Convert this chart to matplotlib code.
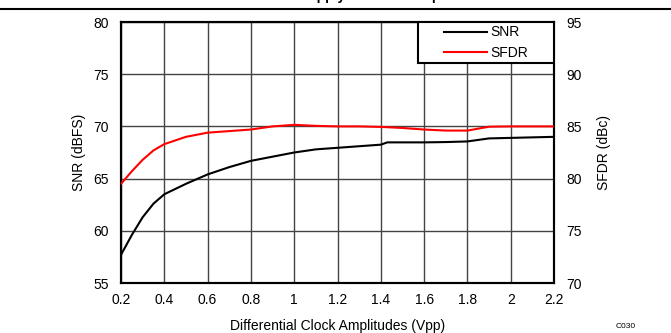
import matplotlib
matplotlib.use("Agg")
import matplotlib.pyplot as plt
from matplotlib.lines import Line2D
from matplotlib.patches import Rectangle

plt.rcParams['font.family'] = ['Liberation Sans', 'DejaVu Sans']
plt.rcParams['font.size'] = 10

# clock amplitude (Vpp)
amp = [0.2, 0.25, 0.3, 0.35, 0.4, 0.5, 0.6, 0.7, 0.8, 0.9, 1.0, 1.1, 1.2, 1.3, 1.4,
       1.43, 1.5, 1.6, 1.7, 1.8, 1.9, 2.0, 2.1, 2.2]
snr = [57.7, 59.6, 61.3, 62.6, 63.5, 64.5, 65.4, 66.1, 66.7, 67.1, 67.5, 67.8, 67.95,
       68.1, 68.25, 68.47, 68.47, 68.47, 68.5, 68.56, 68.85, 68.9, 68.95, 69.0]
sfdr = [79.5, 80.7, 81.8, 82.7, 83.3, 84.0, 84.4, 84.55, 84.7, 85.0, 85.15, 85.05, 85.0,
        85.0, 84.95, 84.92, 84.85, 84.7, 84.6, 84.6, 84.97, 85.0, 85.0, 85.0]

xticks = [0.2, 0.4, 0.6, 0.8, 1.0, 1.2, 1.4, 1.6, 1.8, 2.0, 2.2]
xticklabels = ['0.2', '0.4', '0.6', '0.8', '1', '1.2', '1.4', '1.6', '1.8', '2', '2.2']

fig = plt.figure(figsize=(6.71, 3.33), dpi=100)
ax = fig.add_axes([121/671, 50/333, 433/671, 261/333])
ax2 = ax.twinx()

l1, = ax.plot(amp, snr, color='black', lw=1.5, label='SNR', zorder=3)
l2, = ax2.plot(amp, sfdr, color='#ff0000', lw=1.5, label='SFDR', zorder=3)

ax.set_xlim(0.2, 2.2)
ax.set_ylim(55, 80)
ax2.set_ylim(70, 95)
ax.set_xticks(xticks)
ax.set_xticklabels(xticklabels)
ax.set_yticks(range(55, 81, 5))
ax2.set_yticks(range(70, 96, 5))

ax.grid(True, color='#444444', lw=1.0)
ax.set_axisbelow(True)
for a in (ax, ax2):
    for s in a.spines.values():
        s.set_linewidth(1.5)
        s.set_color('black')
ax.tick_params(axis='both', length=0, pad=9, labelsize=10)
ax.tick_params(axis='x', pad=7)
ax2.tick_params(axis='y', length=0, pad=9, labelsize=10)

ax.set_xlabel('Differential Clock Amplitudes (Vpp)', fontsize=10, labelpad=9)
ax.set_ylabel('SNR (dBFS)', fontsize=10, labelpad=5)
ax2.set_ylabel('SFDR (dBc)', fontsize=10, labelpad=11)

# legend box
ax2.add_patch(Rectangle((0.686, 0.843), 0.314, 0.157, transform=ax2.transAxes,
                        facecolor='white', edgecolor='black', lw=1.5, zorder=5))
leg = ax2.legend([l1, l2], ['SNR', 'SFDR'], loc='center',
                 bbox_to_anchor=(0.686, 0.843, 0.314, 0.157),
                 bbox_transform=ax2.transAxes, frameon=False,
                 handlelength=3.1, handletextpad=0.25, labelspacing=0.45,
                 borderpad=0, fontsize=10)
leg.set_zorder(6)

# header rule and title (mostly above the visible area, as in the reference)
fig.add_artist(Line2D([0, 1], [1 - 9/333, 1 - 9/333], color='black', lw=1.5,
                      transform=fig.transFigure))
fig.text(0.5, 1.0, 'Performance at Supply vs Clock Amplitude', ha='center',
         va='baseline', fontsize=10, fontweight='bold')
fig.text(626/671, 1 - 327/333, 'C030', ha='center', va='center', fontsize=6)

fig.savefig('out.png', dpi=100)
